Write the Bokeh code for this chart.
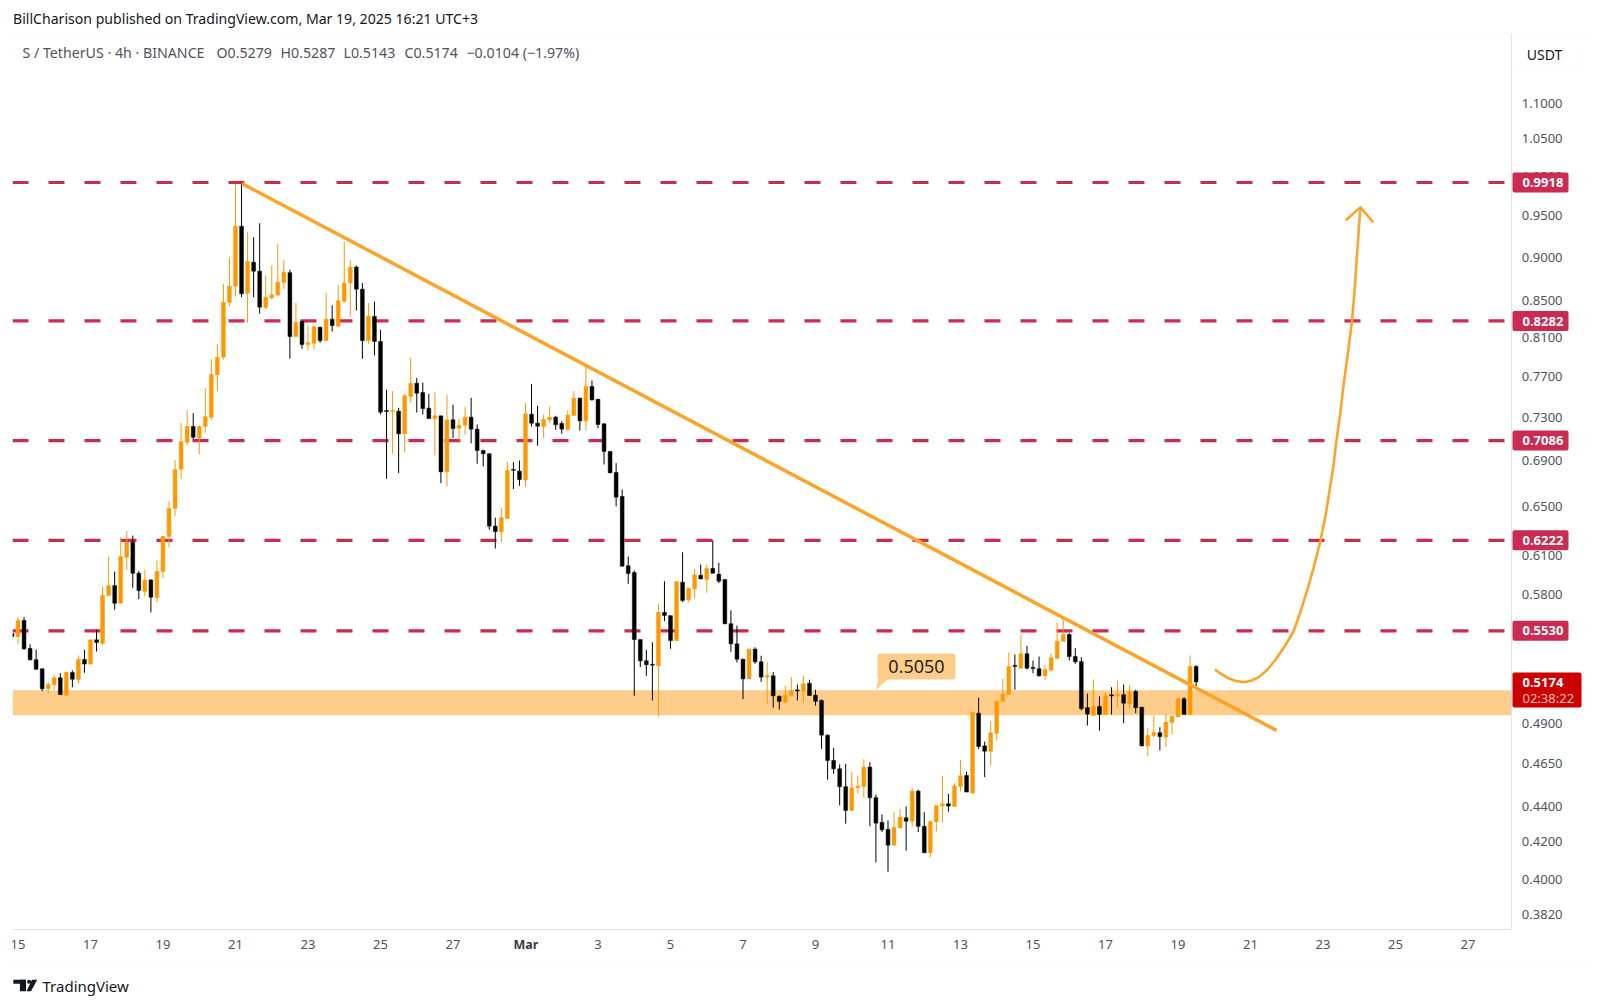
import numpy as np

from bokeh.embed import file_html
from bokeh.models import (BoxAnnotation, ColumnDataSource, FixedTicker, Label, PolyAnnotation,
                          PrintfTickFormatter, Range1d)
from bokeh.plotting import figure
from bokeh.resources import INLINE

# 4h candles, first one is the (clipped) candle just before Feb 15 00:00
highs = [.5518,
    .5625,.5629,.5434,.5395,.5263,.5174,.5224,.5233,.5240,.5252,
    .5355,.5395,.5465,.5538,.5859,.6092,.5974,.6247,.6297,.6261,
    .5977,.5987,.5914,.6060,.6259,.6547,.6910,.7248,.7376,.7343,
    .7229,.7586,.7878,.8031,.8692,.8992,.9893,.9902,.9294,.9236,
    .9406,.8787,.8902,.9157,.8968,.8853,.8479,.8286,.8232,.8229,
    .8214,.8591,.8450,.8676,.9184,.8960,.8902,.8699,.8479,.8493,
    .8186,.7570,.7557,.7395,.7531,.7893,.7689,.7642,.7531,.7544,
    .7318,.7524,.7424,.7292,.7407,.7492,.7236,.7001,.6970,.6408,
    .6492,.6892,.6889,.6904,.7439,.7629,.7414,.7331,.7407,.7318,
    .7266,.7369,.7557,.7492,.7817,.7662,.7478,.7248,.6986,.6880,
    .6646,.6092,.5982,.5467,.5395,.5448,.5729,.5899,.5642,.5896,
    .6126,.5849,.5995,.6029,.6029,.6220,.6042,.5914,.5679,.5567,
    .5332,.5402,.5413,.5353,.5306,.5240,.5083,.5148,.5206,.5156,
    .5217,.5188,.5121,.5057,.4831,.4748,.4646,.4650,.4600,.4580,
    .4678,.4660,.4467,.4353,.4319,.4365,.4383,.4399,.4507,.4496,
    .4366,.4319,.4403,.4578,.4472,.4534,.4674,.4602,.4972,.5068,
    .4787,.4916,.5055,.5195,.5378,.5362,.5503,.5423,.5320,.5348,
    .5286,.5371,.5590,.5618,.5513,.5406,.5343,.5095,.5190,.5077,
    .5105,.5138,.5183,.5156,.5154,.5121,.5006,.4874,.4953,.4877,
    .4964,.4953,.5072,.5072,.5355,.5287]
lows = [.5482,
    .5437,.5395,.5320,.5256,.5112,.5095,.5121,.5085,.5081,.5138,
    .5161,.5236,.5293,.5383,.5427,.5791,.5684,.5733,.5987,.5849,
    .5763,.5783,.5664,.5738,.5925,.6166,.6424,.6738,.7041,.7098,
    .6959,.7158,.7273,.7557,.7875,.8442,.8549,.8541,.8257,.8541,
    .8359,.8403,.8519,.8564,.8631,.7883,.8115,.7986,.7969,.7979,
    .8048,.8065,.8168,.8214,.8482,.8322,.8395,.7883,.8038,.7917,
    .7331,.6741,.6965,.6791,.6980,.7446,.7350,.7331,.7292,.6950,
    .6703,.6674,.7111,.7086,.7142,.7061,.6875,.6851,.6308,.6156,
    .6210,.6399,.6651,.6680,.6674,.7217,.7038,.7111,.7248,.7186,
    .7149,.7189,.7321,.7179,.7179,.7465,.7201,.6868,.6791,.6503,
    .6013,.5879,.5081,.5274,.5215,.5050,.4946,.5600,.5402,.5460,
    .5740,.5740,.5766,.5914,.5811,.5961,.5884,.5578,.5381,.5306,
    .5059,.5195,.5297,.5174,.5029,.5003,.4990,.5032,.5072,.5050,
    .5032,.5081,.5016,.4742,.4554,.4590,.4405,.4301,.4372,.4475,
    .4449,.4287,.4090,.4254,.4040,.4179,.4273,.4153,.4282,.4254,
    .4141,.4117,.4258,.4306,.4369,.4395,.4487,.4482,.4469,.4742,
    .4570,.4640,.4793,.5039,.5090,.5121,.5263,.5258,.5233,.5210,
    .5188,.5245,.5332,.5455,.5320,.5297,.4985,.4888,.4948,.4856,
    .4959,.4959,.5006,.4903,.4996,.4967,.4758,.4695,.4814,.4732,
    .4752,.4831,.4942,.4959,.4959,.5143]
body_tops = [.5511,
    .5605,.5605,.5404,.5325,.5263,.5156,.5201,.5201,.5240,.5238,
    .5327,.5327,.5465,.5465,.5791,.5866,.5866,.6092,.6206,.6206,
    .5961,.5909,.5909,.5974,.6253,.6486,.6821,.7077,.7217,.7217,
    .7217,.7309,.7723,.7899,.8485,.8665,.9370,.9370,.8948,.8940,
    .8836,.8541,.8568,.8710,.8825,.8818,.8265,.8275,.8051,.8219,
    .8214,.8300,.8300,.8501,.8703,.8883,.8883,.8631,.8330,.8330,
    .8062,.7369,.7369,.7362,.7511,.7635,.7635,.7544,.7391,.7318,
    .7318,.7280,.7280,.7229,.7305,.7305,.7192,.6995,.6965,.6338,
    .6408,.6815,.6824,.6809,.7337,.7333,.7248,.7283,.7305,.7305,
    .7245,.7324,.7488,.7488,.7603,.7603,.7478,.7242,.6986,.6797,
    .6588,.6019,.5966,.5467,.5318,.5293,.5664,.5664,.5640,.5896,
    .5891,.5844,.5948,.5945,.5998,.5998,.5953,.5912,.5581,.5437,
    .5329,.5399,.5399,.5311,.5217,.5215,.5077,.5085,.5117,.5120,
    .5161,.5165,.5085,.5050,.4827,.4670,.4620,.4513,.4507,.4517,
    .4630,.4630,.4449,.4308,.4269,.4280,.4338,.4334,.4487,.4487,
    .4286,.4312,.4403,.4414,.4414,.4517,.4578,.4580,.4972,.4967,
    .4760,.4842,.5045,.5090,.5279,.5286,.5367,.5367,.5272,.5263,
    .5257,.5339,.5455,.5503,.5503,.5348,.5313,.5003,.5011,.5011,
    .5081,.5087,.5090,.5088,.5108,.5110,.5006,.4825,.4844,.4842,
    .4909,.4946,.5061,.5061,.5279,.5279]
body_bottoms = [.5489,
    .5489,.5402,.5325,.5260,.5128,.5128,.5154,.5090,.5085,.5192,
    .5190,.5295,.5295,.5446,.5441,.5791,.5733,.5733,.6086,.5961,
    .5828,.5823,.5778,.5773,.5974,.6253,.6486,.6826,.7071,.7117,
    .7111,.7217,.7305,.7720,.7899,.8485,.8665,.8579,.8586,.8836,
    .8431,.8428,.8534,.8564,.8707,.8115,.8115,.8031,.8031,.8044,
    .8072,.8072,.8232,.8225,.8496,.8703,.8631,.8072,.8072,.8062,
    .7353,.7359,.7359,.7149,.7149,.7504,.7537,.7388,.7292,.7292,
    .6803,.6803,.7198,.7201,.7229,.7192,.6995,.6965,.6338,.6294,
    .6292,.6402,.6815,.6735,.6732,.7248,.7220,.7217,.7280,.7233,
    .7192,.7189,.7321,.7270,.7270,.7472,.7236,.6986,.6794,.6582,
    .6016,.5959,.5467,.5318,.5291,.5288,.5284,.5642,.5460,.5460,
    .5753,.5758,.5841,.5917,.5914,.5961,.5899,.5581,.5437,.5329,
    .5195,.5195,.5311,.5206,.5206,.5081,.5044,.5039,.5085,.5113,
    .5112,.5083,.5045,.4827,.4670,.4620,.4513,.4376,.4376,.4507,
    .4515,.4449,.4304,.4267,.4182,.4182,.4278,.4315,.4315,.4286,
    .4141,.4141,.4312,.4401,.4401,.4399,.4515,.4482,.4477,.4756,
    .4727,.4727,.4839,.5044,.5090,.5279,.5267,.5267,.5265,.5215,
    .5215,.5254,.5336,.5455,.5348,.5311,.4996,.4961,.4953,.4959,
    .4959,.5080,.5079,.5032,.5030,.5003,.4760,.4760,.4825,.4818,
    .4814,.4907,.4944,.4959,.4959,.5174]
directions = ("d"
    "udddduudud" "ududuuduud" "duduuuuuud" "uuuuuuudud" "duuuududuu"
    "duduuuddud" "dduduudddu" "duduuddddd" "uuddudduud" "duududdddd"
    "dddddduddu" "duududdddd" "duddudduud" "uddddddduu" "udddduudud"
    "duuuduudud" "duuuududdd" "uuuuddddud" "udududduud" "uuudud")

# annotations
resistance_levels = [0.9918, 0.8282, 0.7086, 0.6222, 0.5530]
support_top, support_bottom = 0.5117, 0.4954
support_level = 0.5050
last_close = 0.5174
trend_days = [6.18, 34.72]
trend_prices = [0.9905, 0.4856]
path_days = [33.02, 33.17, 33.36, 33.59, 33.82, 34.03, 34.23, 34.47, 34.69, 34.94, 35.19, 35.38, 35.56, 35.75,
             35.93, 36.07, 36.18, 36.29, 36.37, 36.48, 36.57, 36.69, 36.80, 36.87, 36.93, 36.98, 37.03]
path_prices = [.5258, .5231, .5202, .5180, .5172, .5183, .5206, .5258, .5325, .5418, .5527, .5671, .5826, .6013,
               .6218, .6427, .6637, .6860, .7083, .7350, .7628, .7948, .8279, .8617, .8968, .9281, .9602]
head_days = [36.65, 37.03, 37.37]
head_prices = [.9451, .9602, .9427]
callout_days = [23.74, 23.66, 24.01]
callout_prices = [.5195, .5117, .5195]

price_ticks = [1.10, 1.05, 1.00, 0.95, 0.90, 0.85, 0.81, 0.77, 0.73, 0.69, 0.65, 0.61, 0.58, 0.49, 0.465, 0.44, 0.42, 0.40, 0.382]
day_ticks = list(range(0, 41, 2))
day_labels = ["15", "17", "19", "21", "23", "25", "27", "", "3", "5", "7", "9", "11", "13", "15", "17", "19", "21", "23", "25", "27"]

ORANGE = "#FF9800"
LINE_ORANGE = "#FFA229"
RED = "#CB2A52"
ZONE = "#FECD8A"
FONT = "Noto Sans"
GREY = "#50535E"

# the price pane of the screenshot, the ranges go past it so the frame fills the canvas
pane_left, pane_right = -0.152, 41.21
pane_bottom, pane_top = 0.3747, 1.2043

days = (np.arange(len(highs)) - 1) / 6
colors = [ORANGE if d == "u" else "#000000" for d in directions]
src = ColumnDataSource(dict(x=days, high=highs, low=lows, top=body_tops, bottom=body_bottoms, color=colors))

p = figure(width=1600, height=1007, y_axis_type="log", y_axis_location="right",
           x_range=Range1d(-0.4828, 43.655), y_range=Range1d(0.33848, 1.2573),
           output_backend="svg", toolbar_location=None, tools="",
           min_border=0)
p.grid.visible = False
p.outline_line_color = None
p.background_fill_color = "white"

p.yaxis.ticker = FixedTicker(ticks=price_ticks)
p.yaxis.formatter = PrintfTickFormatter(format="%.4f")
p.yaxis.fixed_location = pane_right
p.yaxis.bounds = (pane_bottom, pane_top)
p.xaxis.ticker = FixedTicker(ticks=day_ticks)
p.xaxis.major_label_overrides = dict(zip(day_ticks, day_labels))
p.xaxis.fixed_location = pane_bottom
p.xaxis.bounds = (pane_left, pane_right)
for ax in (p.xaxis, p.yaxis):
    ax.axis_line_color = "#E0E3EB"
    ax.major_tick_line_color = None
    ax.minor_tick_line_color = None
    ax.major_label_text_color = GREY
    ax.major_label_text_font = FONT
    ax.major_label_text_font_size = "13px"
p.yaxis.major_label_standoff = 4
p.xaxis.major_label_standoff = 5

p.quad(left=pane_left, right=pane_right, top=support_top, bottom=support_bottom, color=ZONE, line_color=None)
for lvl in resistance_levels:
    p.line([pane_left, pane_right], [lvl, lvl], color=RED, line_width=3.2, line_dash=[16, 20])

p.segment("x", "high", "x", "low", color="color", line_width=1, source=src)
p.vbar("x", 0.105, "top", "bottom", fill_color="color", line_color="color", line_width=0.5, source=src)

p.line(trend_days, trend_prices, color=LINE_ORANGE, line_width=3.5)
p.line(path_days, path_prices, color=LINE_ORANGE, line_width=2.6, line_join="round")
p.line(head_days, head_prices, color=LINE_ORANGE, line_width=2.6, line_join="round", line_cap="round")
p.patch(callout_days, callout_prices, color=ZONE, line_color=None)


def canvas_label(x, y, text, color=GREY, size=13, weight="normal", align="left"):
    p.add_layout(Label(x=x, y=y, x_units="canvas", y_units="canvas", text=text, text_color=color,
                       text_font=FONT, text_font_size=f"{size}px", text_font_style=weight,
                       text_align=align, text_baseline="middle", level="overlay"))


def canvas_box(left, right, top, bottom, **kw):
    p.add_layout(BoxAnnotation(left=left, right=right, top=top, bottom=bottom,
                               left_units="canvas", right_units="canvas", top_units="canvas",
                               bottom_units="canvas", level="overlay", **kw))


# hides the part of the first candle left of the pane
canvas_box(0, 12, 33, 929, fill_color="white", fill_alpha=1, line_color=None)
# outer frame of the TradingView panel
canvas_box(12, 1587, 33, 963, fill_alpha=0, line_color="#F0F3FA", line_width=1)

canvas_label(12.5, 18, "BillCharison published on TradingView.com, Mar 19, 2025 16:21 UTC+3", color="#131722", size=14.1)
canvas_label(22, 52, "S / TetherUS · 4h · BINANCE", size=14.2)
canvas_label(216, 52, "O0.5279", size=14.2)
canvas_label(280, 52, "H0.5287", size=14.2)
canvas_label(343, 52, "L0.5143", size=14.2)
canvas_label(404, 52, "C0.5174", size=14.2)
canvas_label(466, 52, "−0.0104 (−1.97%)", size=14.2)
canvas_label(525.5, 944, "Mar", color="#363A45", size=12.5, weight="bold", align="center")

canvas_box(1516, 1583, 38, 70, fill_color="white", fill_alpha=1, line_color="#F0F3FA", line_width=1, border_radius=6)
canvas_label(1544, 54, "USDT", color="#131722", size=14, align="center")

# price tags on the right axis
tag_y = [182, 320.6, 440, 539.7, 630.3]
for lvl, ty in zip(resistance_levels, tag_y):
    canvas_box(1512, 1568, ty - 10, ty + 10, fill_color=RED, fill_alpha=1, line_color=None, border_radius=2)
    canvas_label(1522, ty, f"{lvl:.4f}", color="white", weight="bold")

canvas_box(1512, 1581, 672, 707, fill_color="#CC0000", fill_alpha=1, line_color=None, border_radius=2)
canvas_label(1522, 682, f"{last_close:.4f}", color="white", weight="bold")
canvas_label(1522, 697, "02:38:22", color="#F7BDBD")

# 0.5050 callout
canvas_box(877, 955, 653, 679, fill_color=ZONE, fill_alpha=1, line_color=None, border_radius=3)
canvas_label(916, 666, f"{support_level:.4f}", color="#2A2416", size=18, align="center")

# TradingView logo
canvas_box(12.8, 25.5, 979.3, 983.3, fill_color="#131722", fill_alpha=1, line_color=None)
canvas_box(19.4, 25.5, 979.3, 990.7, fill_color="#131722", fill_alpha=1, line_color=None)
canvas_box(26.5, 30.6, 979.3, 983.3, fill_color="#131722", fill_alpha=1, line_color=None, border_radius=2)
p.add_layout(PolyAnnotation(xs=[36.7, 31.5, 26, 30.5], ys=[979.3, 979.3, 990.7, 990.7], xs_units="canvas",
                            ys_units="canvas", fill_color="#131722", fill_alpha=1, line_color=None, level="overlay"))
canvas_label(42, 985, "TradingView", color="#131722", size=15)

open("out.html", "w").write(file_html(p, INLINE))
